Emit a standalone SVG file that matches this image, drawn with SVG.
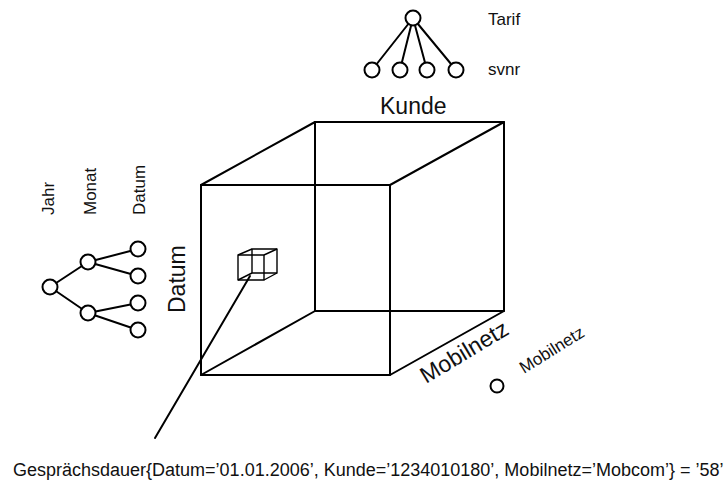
<svg xmlns="http://www.w3.org/2000/svg" width="727" height="484" viewBox="0 0 727 484">
  <style>
    .edge { stroke: #000; stroke-width: 2; fill: none; stroke-linecap: round; stroke-linejoin: round; }
    .thin { stroke: #000; stroke-width: 1.4; fill: none; stroke-linejoin: round; }
    .node { stroke: #000; stroke-width: 2; fill: #fff; }
    .lbl { font-family: "Liberation Sans", Arial, sans-serif; fill: #111; }
    .big { font-size: 23px; }
    .small { font-size: 17px; }
    .caption { font-size: 18px; }
  </style>

  <!-- data cube: front face, back face, depth edges -->
  <g id="cube">
    <rect class="edge" x="201" y="185" width="189" height="190"/>
    <rect class="edge" x="315" y="122" width="189" height="189"/>
    <path class="edge" d="M201 185 L315 122 M390 185 L504 122 M201 375 L315 311 M390 375 L504 311"/>
  </g>

  <!-- single cell inside the cube -->
  <g id="cell">
    <rect class="thin" x="238" y="255" width="26" height="25"/>
    <rect class="thin" x="252" y="249" width="25" height="24"/>
    <path class="thin" d="M238 255 L252 249 M264 255 L277 249 M238 280 L252 273 M264 280 L277 273"/>
  </g>

  <!-- connectors: tree edges and the pointer from the cell to its value -->
  <g id="connectors">
    <path class="edge" d="M413 18 L372 70 M413 18 L400 70 M413 18 L427 70 M413 18 L456 70"/>
    <path class="edge" d="M50 287 L88 262 M50 287 L88 313 M88 262 L138 249 M88 262 L138 276 M88 313 L138 303 M88 313 L138 330"/>
    <path class="edge" d="M250 276 L155 438"/>
  </g>

  <!-- Kunde hierarchy: Tarif over svnr -->
  <g id="kunde-hierarchy">
    <circle class="node" cx="413" cy="18" r="7.5"/>
    <circle class="node" cx="372" cy="70" r="7.5"/>
    <circle class="node" cx="400" cy="70" r="7.5"/>
    <circle class="node" cx="427" cy="70" r="7.5"/>
    <circle class="node" cx="456" cy="70" r="7.5"/>
    <text class="lbl small" x="488" y="25">Tarif</text>
    <text class="lbl small" x="488" y="75">svnr</text>
  </g>

  <!-- Datum hierarchy: Jahr, Monat, Datum -->
  <g id="datum-hierarchy">
    <circle class="node" cx="50" cy="287" r="7.5"/>
    <circle class="node" cx="88" cy="262" r="7.5"/>
    <circle class="node" cx="88" cy="313" r="7.5"/>
    <circle class="node" cx="138" cy="249" r="7.5"/>
    <circle class="node" cx="138" cy="276" r="7.5"/>
    <circle class="node" cx="138" cy="303" r="7.5"/>
    <circle class="node" cx="138" cy="330" r="7.5"/>
    <text class="lbl small" transform="translate(54 215) rotate(-90)">Jahr</text>
    <text class="lbl small" transform="translate(96 215) rotate(-90)">Monat</text>
    <text class="lbl small" transform="translate(145 215) rotate(-90)">Datum</text>
  </g>

  <!-- Mobilnetz hierarchy: single level -->
  <g id="mobilnetz-hierarchy">
    <circle class="node" cx="497" cy="386" r="6.5"/>
    <text class="lbl small" transform="translate(524 374) rotate(-32)">Mobilnetz</text>
  </g>

  <!-- dimension axis labels -->
  <g id="axis-labels">
    <text class="lbl big" x="380" y="114">Kunde</text>
    <text class="lbl big" transform="translate(185 313) rotate(-90)">Datum</text>
    <text class="lbl big" transform="translate(426 384) rotate(-31)">Mobilnetz</text>
  </g>

  <!-- measure value of the highlighted cell -->
  <g id="cell-value">
    <text class="lbl caption" x="13" y="476">Gesprächsdauer{Datum=’01.01.2006’, Kunde=’1234010180’, Mobilnetz=’Mobcom’} = ’58’</text>
  </g>
</svg>
